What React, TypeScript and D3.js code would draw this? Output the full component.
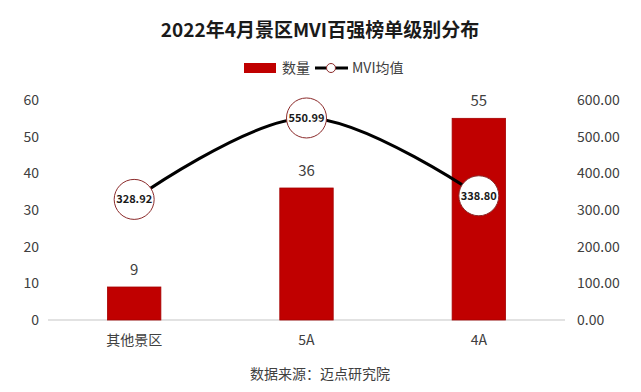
import { useEffect, useRef } from "react";
import * as d3 from "d3";

const categories = ["其他景区", "5A", "4A"];
const counts = [9, 36, 55];
const mviAvg = [328.92, 550.99, 338.8];
const leftTicks = [0, 10, 20, 30, 40, 50, 60];
const rightTicks = [0, 100, 200, 300, 400, 500, 600];

const W = 641,
  H = 392;
const margin = { top: 100, right: 76, bottom: 72, left: 48 };
const font = "'Noto Sans CJK SC', 'Noto Sans', sans-serif";

const App = () => {
  const ref = useRef<SVGSVGElement>(null);

  useEffect(() => {
    const svg = d3.select(ref.current);
    svg.selectAll("*").remove();

    const x = d3
      .scaleBand()
      .domain(categories)
      .range([margin.left, W - margin.right])
      .paddingInner(0.69)
      .paddingOuter(0.345);
    const y = d3.scaleLinear().domain([0, 60]).range([H - margin.bottom, margin.top]);
    const y2 = d3.scaleLinear().domain([0, 600]).range([H - margin.bottom, margin.top]);

    // title
    svg
      .append("text")
      .attr("x", 320)
      .attr("y", 37)
      .attr("text-anchor", "middle")
      .style("font", `bold 19px ${font}`)
      .attr("fill", "#1a1a1a")
      .text("2022年4月景区MVI百强榜单级别分布");

    // legend
    const lg = svg.append("g").attr("transform", "translate(0,68)");
    lg.append("rect").attr("x", 244).attr("y", -5).attr("width", 32).attr("height", 10).attr("fill", "#c00000");
    lg.append("text")
      .attr("x", 282)
      .attr("y", 5)
      .style("font", `14px ${font}`)
      .attr("fill", "#404040")
      .text("数量");
    lg.append("line").attr("x1", 315).attr("x2", 348).attr("y1", 0).attr("y2", 0).attr("stroke", "#000").attr("stroke-width", 3);
    lg.append("circle").attr("cx", 331).attr("cy", 0).attr("r", 4.5).attr("fill", "#fff").attr("stroke", "#8b2a2a");
    lg.append("text")
      .attr("x", 352)
      .attr("y", 5)
      .style("font", `14px ${font}`)
      .attr("fill", "#404040")
      .text("MVI均值");

    // baseline
    svg
      .append("line")
      .attr("x1", margin.left)
      .attr("x2", W - margin.right)
      .attr("y1", y(0))
      .attr("y2", y(0))
      .attr("stroke", "#d9d9d9")
      .attr("stroke-width", 1.5);

    // left axis labels
    svg
      .append("g")
      .selectAll("text")
      .data(leftTicks)
      .join("text")
      .attr("x", 39)
      .attr("y", (d) => y(d) + 5)
      .attr("text-anchor", "end")
      .style("font", `14px ${font}`)
      .attr("fill", "#404040")
      .text((d) => d);

    // right axis labels
    svg
      .append("g")
      .selectAll("text")
      .data(rightTicks)
      .join("text")
      .attr("x", 577)
      .attr("y", (d) => y2(d) + 5)
      .style("font", `14px ${font}`)
      .attr("fill", "#404040")
      .text((d) => d.toFixed(2));

    // category labels
    svg
      .append("g")
      .selectAll("text")
      .data(categories)
      .join("text")
      .attr("x", (d) => x(d)! + x.bandwidth() / 2)
      .attr("y", y(0) + 25)
      .attr("text-anchor", "middle")
      .style("font", `14px ${font}`)
      .attr("fill", "#404040")
      .text((d) => d);

    // bars
    svg
      .append("g")
      .selectAll("rect")
      .data(counts)
      .join("rect")
      .attr("x", (d, i) => x(categories[i])!)
      .attr("y", (d) => y(d))
      .attr("width", x.bandwidth())
      .attr("height", (d) => y(0) - y(d))
      .attr("fill", "#c00000")
      .attr("stroke", "#a50000")
      .attr("stroke-width", 0.8);

    svg
      .append("g")
      .selectAll("text")
      .data(counts)
      .join("text")
      .attr("x", (d, i) => x(categories[i])! + x.bandwidth() / 2)
      .attr("y", (d) => y(d) - 12)
      .attr("text-anchor", "middle")
      .style("font", `15px ${font}`)
      .attr("fill", "#404040")
      .text((d) => d);

    // line
    const cx = (i: number) => x(categories[i])! + x.bandwidth() / 2;
    const line = d3
      .line<number>()
      .x((d, i) => cx(i))
      .y((d) => y2(d))
      .curve(d3.curveCatmullRom.alpha(0.5));
    svg
      .append("path")
      .datum(mviAvg)
      .attr("d", line)
      .attr("fill", "none")
      .attr("stroke", "#000")
      .attr("stroke-width", 3);

    const pts = svg.append("g").selectAll("g").data(mviAvg).join("g").attr("transform", (d, i) => `translate(${cx(i)},${y2(d)})`);
    pts.append("circle").attr("r", 20).attr("fill", "#fff").attr("stroke", "#8b2a2a").attr("stroke-width", 1);
    pts
      .append("text")
      .attr("y", 4)
      .attr("text-anchor", "middle")
      .style("font", `bold 11px ${font}`)
      .attr("fill", "#1a1a1a")
      .text((d) => d.toFixed(2));

    // source
    svg
      .append("text")
      .attr("x", 320)
      .attr("y", 379)
      .attr("text-anchor", "middle")
      .style("font", `14px ${font}`)
      .attr("fill", "#404040")
      .text("数据来源：迈点研究院");
  }, []);

  return (
    <svg
      ref={ref}
      width={W}
      height={H}
      style={{ position: "absolute", left: 0, top: 0, background: "#fff" }}
    />
  );
};

export default App;
